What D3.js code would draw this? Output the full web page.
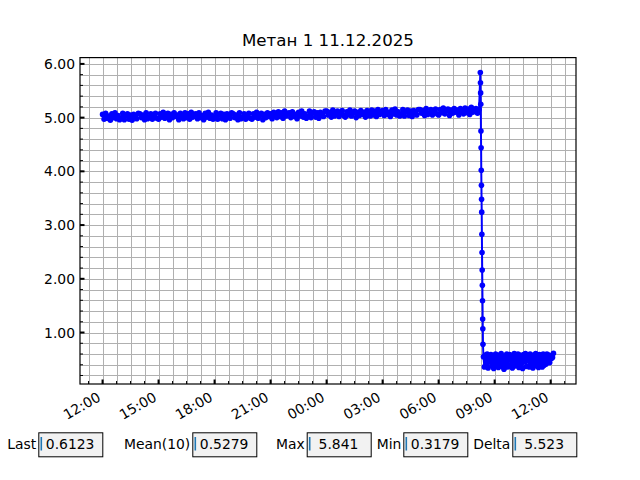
<!DOCTYPE html>
<html><head><meta charset="utf-8">
<script src="https://cdn.jsdelivr.net/npm/d3@7"></script>
<style>
body{margin:0;background:#fff}
svg{display:block}
text{font-family:"DejaVu Sans",sans-serif;fill:#000}
</style>
</head><body>
<svg id="chart" width="640" height="480"></svg>
<script>
// ---------------- data ----------------
const chartTitle = "Метан 1 11.12.2025";

// plateau before the drop, sampled every 5 minutes from 12:00
const highStart = "2025-12-11T12:00:00";
const highStepMin = 5;
const highValues = [
  5.06,4.97,5.08,4.99,5.03,4.95,5.07,5.00,5.09,4.98,5.04,4.96,
  4.99,5.08,4.96,5.04,5.07,4.97,5.05,4.95,5.06,5.02,4.98,5.08,
  5.07,5.00,5.05,4.96,5.09,4.98,5.01,5.07,4.97,5.04,5.08,4.99,
  4.97,5.07,5.01,5.10,4.99,5.04,5.08,4.96,5.06,5.00,5.09,5.02,
  5.05,4.96,5.08,5.03,4.98,5.09,5.00,5.07,4.97,5.10,5.01,5.06,
  5.07,4.98,5.09,5.00,5.04,4.96,5.08,5.01,5.10,4.99,5.05,4.97,
  5.00,5.09,4.97,5.05,5.08,4.98,5.06,4.96,5.07,5.03,4.99,5.09,
  5.07,5.00,5.05,4.96,5.09,4.98,5.01,5.07,4.97,5.04,5.08,4.99,
  4.97,5.07,5.01,5.10,4.99,5.04,5.08,4.96,5.06,5.00,5.09,5.02,
  5.07,4.98,5.10,5.05,5.00,5.11,5.02,5.09,4.99,5.12,5.03,5.08,
  5.09,5.00,5.11,5.02,5.06,4.98,5.10,5.03,5.12,5.01,5.07,4.99,
  5.03,5.12,5.00,5.08,5.11,5.01,5.09,4.99,5.10,5.06,5.02,5.12,
  5.12,5.05,5.10,5.01,5.14,5.03,5.06,5.12,5.02,5.09,5.13,5.04,
  5.01,5.11,5.05,5.14,5.03,5.08,5.12,5.00,5.10,5.04,5.13,5.06,
  5.10,5.01,5.13,5.08,5.03,5.14,5.05,5.12,5.02,5.15,5.06,5.11,
  5.13,5.04,5.15,5.06,5.10,5.02,5.14,5.07,5.16,5.05,5.11,5.03,
  5.06,5.15,5.03,5.11,5.14,5.04,5.12,5.02,5.13,5.09,5.05,5.15,
  5.15,5.08,5.13,5.04,5.17,5.06,5.09,5.15,5.05,5.12,5.16,5.07,
  5.05,5.15,5.09,5.18,5.07,5.12,5.16,5.04,5.14,5.08,5.17,5.10,
  5.14,5.05,5.17,5.12,5.07,5.18,5.09,5.16,5.06,5.19,5.10,5.15,
  5.17,5.08,5.15
];

// spike and fall, sampled every 30 seconds
const dropStart = "2025-12-12T08:14:00";
const dropStepMin = 0.5;
const dropValues = [
  5.841,5.65,5.46,5.25,4.75,4.44,4.02,3.74,3.48,3.24,
  2.83,2.49,2.165,1.88,1.59,1.25,1.07,0.78
];

// low level after the drop, sampled every 3 minutes
const lowStart = "2025-12-12T08:24:00";
const lowStepMin = 3;
const lowValues = [
  0.55,0.36,0.58,0.41,0.60,0.34,0.52,0.45,0.59,0.38,
  0.57,0.33,0.49,0.60,0.40,0.55,0.35,0.58,0.44,0.61,
  0.37,0.53,0.3179,0.56,0.42,0.60,0.36,0.51,0.59,0.39,
  0.57,0.34,0.47,0.61,0.38,0.54,0.43,0.60,0.35,0.58,
  0.41,0.56,0.33,0.59,0.46,0.61,0.37,0.52,0.57,0.36,
  0.60,0.40,0.55,0.34,0.58,0.44,0.61,0.38,0.53,0.35,
  0.59,0.42,0.57,0.36,0.60,0.39,
  0.55,0.41,0.60,0.47,0.58,0.44,0.56,0.52,0.5367,0.6123
];

const yTickValues = [1, 2, 3, 4, 5, 6];
const xTickStepHours = 3;
const xMinorStepMin = 45;
const yMinorStep = 0.2;
const statLabels = ["Last", "Mean(10)", "Max", "Min", "Delta"];

// ---------------- build points ----------------
function seg(start, stepMin, vals) {
  const t0 = new Date(start).getTime();
  return vals.map((v, i) => ({ t: new Date(t0 + i * stepMin * 60000), v }));
}
const points = [].concat(
  seg(highStart, highStepMin, highValues),
  seg(dropStart, dropStepMin, dropValues),
  seg(lowStart, lowStepMin, lowValues)
);

// ---------------- layout ----------------
const L = 80, R = 576, T = 57.6, B = 384;
const svg = d3.select("#chart");

const tExt = d3.extent(points, d => d.t.getTime());
const tSpan = tExt[1] - tExt[0];
const x = d3.scaleTime()
  .domain([new Date(tExt[0] - 0.05 * tSpan), new Date(tExt[1] + 0.05 * tSpan)])
  .range([L, R]);
const vExt = d3.extent(points, d => d.v);
const vSpan = vExt[1] - vExt[0];
const y = d3.scaleLinear()
  .domain([vExt[0] - 0.05 * vSpan, vExt[1] + 0.05 * vSpan])
  .range([B, T]);

// ticks
const xMajor = d3.timeHour.every(xTickStepHours).range(x.domain()[0], x.domain()[1]);
const xMinor = [];
{
  const first = xMajor[0].getTime();
  const d0 = x.domain()[0].getTime(), d1 = x.domain()[1].getTime();
  const step = xMinorStepMin * 60000;
  let s = first;
  while (s - step >= d0) s -= step;
  for (let t = s; t <= d1; t += step) xMinor.push(new Date(t));
}
const yMinor = d3.range(Math.ceil(y.domain()[0] / yMinorStep), Math.floor(y.domain()[1] / yMinorStep) + 1)
  .map(k => +(k * yMinorStep).toFixed(4));

// grid
const grid = svg.append("g").attr("stroke", "#b0b0b0").attr("stroke-width", 1).attr("shape-rendering", "crispEdges");
grid.selectAll("line.gx").data(xMinor).join("line")
  .attr("x1", d => Math.round(x(d)) + 0.5).attr("x2", d => Math.round(x(d)) + 0.5)
  .attr("y1", T).attr("y2", B);
grid.selectAll("line.gy").data(yMinor).join("line")
  .attr("y1", d => Math.round(y(d)) + 0.5).attr("y2", d => Math.round(y(d)) + 0.5)
  .attr("x1", L).attr("x2", R);

// data
const line = d3.line().x(d => x(d.t)).y(d => y(d.v));
svg.append("path").datum(points)
  .attr("d", line).attr("fill", "none")
  .attr("stroke", "#0000ff").attr("stroke-width", 2).attr("stroke-linejoin", "round");
svg.append("g").attr("fill", "#0000ff")
  .selectAll("circle").data(points).join("circle")
  .attr("cx", d => x(d.t)).attr("cy", d => y(d.v)).attr("r", 2.8);

// spines
svg.append("rect").attr("x", L).attr("y", T).attr("width", R - L).attr("height", B - T)
  .attr("fill", "none").attr("stroke", "#000").attr("stroke-width", 1.2);

// ticks (inward)
const tk = svg.append("g").attr("stroke", "#000");
tk.selectAll("line.xmi").data(xMinor).join("line")
  .attr("x1", d => x(d)).attr("x2", d => x(d)).attr("y1", B).attr("y2", B - 3).attr("stroke-width", 1);
tk.selectAll("line.xma").data(xMajor).join("line")
  .attr("x1", d => x(d)).attr("x2", d => x(d)).attr("y1", B).attr("y2", B - 4.5).attr("stroke-width", 2);
tk.selectAll("line.ymi").data(yMinor).join("line")
  .attr("y1", d => y(d)).attr("y2", d => y(d)).attr("x1", L).attr("x2", L + 3).attr("stroke-width", 1);
tk.selectAll("line.yma").data(yTickValues).join("line")
  .attr("y1", d => y(d)).attr("y2", d => y(d)).attr("x1", L).attr("x2", L + 4.5).attr("stroke-width", 2);

// tick labels
const fmtT = d3.timeFormat("%H:%M");
svg.append("g").selectAll("text").data(xMajor).join("text")
  .attr("transform", d => `translate(${x(d) - 1},400) rotate(-30)`)
  .attr("text-anchor", "end").attr("font-size", "13.9px")
  .text(d => fmtT(d));
svg.append("g").selectAll("text").data(yTickValues).join("text")
  .attr("x", L - 5).attr("y", d => y(d) + 5)
  .attr("text-anchor", "end").attr("font-size", "13.9px")
  .text(d => d3.format(".2f")(d));

// title
svg.append("text").attr("x", (L + R) / 2).attr("y", 45.5)
  .attr("text-anchor", "middle").attr("font-size", "16.67px").text(chartTitle);

// stats boxes
const allV = points.map(d => d.v);
const last = lowValues[lowValues.length - 1];
const mean10 = d3.mean(allV.slice(-10));
const maxV = d3.max(allV), minV = d3.min(allV);
const statValues = [last, mean10, maxV, minV, maxV - minV];
const fmtS = v => d3.format(".4")(v).padStart(6, " ");
const boxLeft = [38.3, 192.3, 306.7, 403.3, 512.3];
const boxW = 64, boxTop = 432.3, boxH = 24;
statLabels.forEach((lab, i) => {
  const bx = boxLeft[i];
  svg.append("text").attr("x", bx - 2).attr("y", 449)
    .attr("text-anchor", "end").attr("font-size", "13.9px").text(lab);
  svg.append("rect").attr("x", bx + 0.5).attr("y", boxTop + 0.5).attr("width", boxW).attr("height", boxH)
    .attr("fill", "#f2f2f2").attr("stroke", "#000").attr("stroke-width", 1);
  svg.append("line").attr("x1", bx + 3).attr("x2", bx + 3).attr("y1", 437).attr("y2", 450.5)
    .attr("stroke", "#1f77b4").attr("stroke-width", 1.6);
  svg.append("text").attr("x", bx + 7.5).attr("y", 449)
    .attr("font-size", "13.9px").attr("xml:space", "preserve").style("white-space", "pre")
    .text(fmtS(statValues[i]));
});
</script>
</body></html>
